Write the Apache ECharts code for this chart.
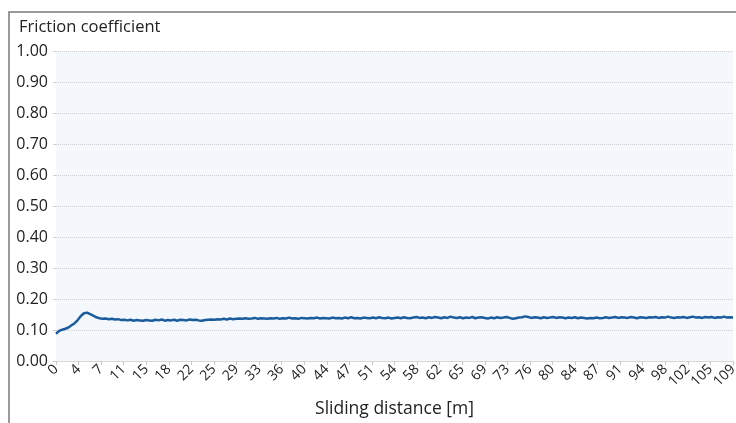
<!DOCTYPE html>
<html>
<head>
<meta charset="utf-8">
<script src="https://cdn.jsdelivr.net/npm/echarts@6/dist/echarts.min.js"></script>
<style>
html,body{margin:0;padding:0;background:#fff;}
#chart{width:736px;height:423px;}
</style>
</head>
<body>
<div id="chart"></div>
<script>
// Sliding distance [m] of each sample
var distance = [
  0,0.5,1,1.5,2,2.5,3,3.5,4,4.5,
  5,5.5,6,6.5,7,7.5,8,8.5,9,9.5,
  10,10.5,11,11.5,12,12.5,13,13.5,14,14.5,
  15,15.5,16,16.5,17,17.5,18,18.5,19,19.5,
  20,20.5,21,21.5,22,22.5,23,23.5,24,24.5,
  25,25.5,26,26.5,27,27.5,28,28.5,29,29.5,
  30,30.5,31,31.5,32,32.5,33,33.5,34,34.5,
  35,35.5,36,36.5,37,37.5,38,38.5,39,39.5,
  40,40.5,41,41.5,42,42.5,43,43.5,44,44.5,
  45,45.5,46,46.5,47,47.5,48,48.5,49,49.5,
  50,50.5,51,51.5,52,52.5,53,53.5,54,54.5,
  55,55.5,56,56.5,57,57.5,58,58.5,59,59.5,
  60,60.5,61,61.5,62,62.5,63,63.5,64,64.5,
  65,65.5,66,66.5,67,67.5,68,68.5,69,69.5,
  70,70.5,71,71.5,72,72.5,73,73.5,74,74.5,
  75,75.5,76,76.5,77,77.5,78,78.5,79,79.5,
  80,80.5,81,81.5,82,82.5,83,83.5,84,84.5,
  85,85.5,86,86.5,87,87.5,88,88.5,89,89.5,
  90,90.5,91,91.5,92,92.5,93,93.5,94,94.5,
  95,95.5,96,96.5,97,97.5,98,98.5,99,99.5,
  100,100.5,101,101.5,102,102.5,103,103.5,104,104.5,
  105,105.5,106,106.5,107,107.5,108,108.5,108.95
];
// Friction coefficient at each sample
var friction = [
  0.088,0.097,0.101,0.104,0.108,0.115,0.122,0.132,0.145,0.154,
  0.156,0.151,0.146,0.141,0.138,0.136,0.137,0.135,0.136,0.134,
  0.135,0.132,0.133,0.131,0.133,0.130,0.132,0.131,0.130,0.132,
  0.131,0.130,0.133,0.131,0.134,0.130,0.132,0.131,0.133,0.130,
  0.133,0.132,0.131,0.134,0.132,0.133,0.131,0.130,0.132,0.133,
  0.134,0.133,0.135,0.134,0.136,0.134,0.137,0.135,0.136,0.137,
  0.136,0.138,0.136,0.137,0.139,0.136,0.138,0.137,0.136,0.138,
  0.137,0.139,0.136,0.138,0.137,0.140,0.137,0.138,0.136,0.139,
  0.138,0.137,0.139,0.138,0.140,0.137,0.139,0.138,0.137,0.140,
  0.138,0.139,0.137,0.140,0.138,0.141,0.138,0.139,0.137,0.140,
  0.139,0.138,0.140,0.138,0.141,0.139,0.138,0.140,0.137,0.139,
  0.140,0.138,0.141,0.139,0.138,0.140,0.142,0.139,0.140,0.138,
  0.141,0.139,0.142,0.140,0.138,0.141,0.139,0.143,0.140,0.139,
  0.141,0.138,0.140,0.139,0.142,0.138,0.140,0.141,0.139,0.137,
  0.140,0.138,0.141,0.139,0.140,0.142,0.139,0.136,0.138,0.140,
  0.141,0.144,0.142,0.139,0.141,0.140,0.138,0.141,0.139,0.140,
  0.142,0.139,0.141,0.140,0.138,0.140,0.139,0.141,0.138,0.140,
  0.139,0.137,0.139,0.138,0.140,0.138,0.139,0.141,0.139,0.140,
  0.142,0.139,0.141,0.140,0.139,0.142,0.140,0.138,0.141,0.140,
  0.139,0.141,0.140,0.142,0.139,0.141,0.140,0.143,0.140,0.139,
  0.141,0.140,0.142,0.139,0.141,0.143,0.140,0.141,0.139,0.142,
  0.140,0.142,0.139,0.141,0.140,0.143,0.140,0.141,0.140
];
// Axis settings
var xMax = 108.95;
var xTickCount = 30;
var yTicks = [0, 0.1, 0.2, 0.3, 0.4, 0.5, 0.6, 0.7, 0.8, 0.9, 1.0];
var yTitle = 'Friction coefficient';
var xTitle = 'Sliding distance [m]';

var points = distance.map(function (d, i) { return [d, friction[i]]; });
var font = '"Open Sans", "Noto Sans", sans-serif';

var chart = echarts.init(document.getElementById('chart'));
chart.setOption({
  animation: false,
  backgroundColor: '#ffffff',
  graphic: [
    { type: 'rect', shape: { x: 9, y: 12, width: 800, height: 500 },
      style: { fill: 'none', stroke: '#7a7a7a', lineWidth: 1.5 }, z: 100 },
    { type: 'text', left: 19, top: 19,
      style: { text: yTitle, font: '16.5px ' + font, fill: '#222' } }
  ],
  grid: {
    left: 56, right: 3, top: 51, bottom: 62,
    outerBoundsMode: 'none', containLabel: false,
    show: true, backgroundColor: '#f4f8fc', borderWidth: 0
  },
  xAxis: {
    type: 'value', min: 0, max: xMax, interval: xMax / xTickCount,
    name: xTitle, nameLocation: 'middle', nameGap: 39, nameMoveOverlap: false,
    nameTextStyle: { fontFamily: font, fontSize: 17.5, color: '#222' },
    axisLine: { show: true, lineStyle: { color: '#d6d6d6', width: 1 } },
    axisTick: { show: true, length: 4, lineStyle: { color: '#c8c8c8' } },
    splitLine: { show: false },
    axisLabel: {
      rotate: 45, fontFamily: font, fontSize: 14, color: '#222', margin: 6,
      showMaxLabel: true, hideOverlap: false,
      formatter: function (v) { return String(Math.round(v)); }
    }
  },
  yAxis: {
    type: 'value', min: yTicks[0], max: yTicks[yTicks.length - 1], interval: 0.1,
    axisLine: { show: false },
    axisTick: { show: true, length: 3, lineStyle: { color: '#cccccc' } },
    splitLine: { show: true, lineStyle: { color: '#cfcfcf', type: 'dotted', width: 1 } },
    axisLabel: {
      fontFamily: font, fontSize: 16, color: '#222', margin: 8,
      formatter: function (v) { return v.toFixed(2); }
    }
  },
  series: [{
    type: 'line', data: points, showSymbol: false,
    lineStyle: { color: '#1b5d9c', width: 2.5 }
  }]
});
</script>
</body>
</html>
